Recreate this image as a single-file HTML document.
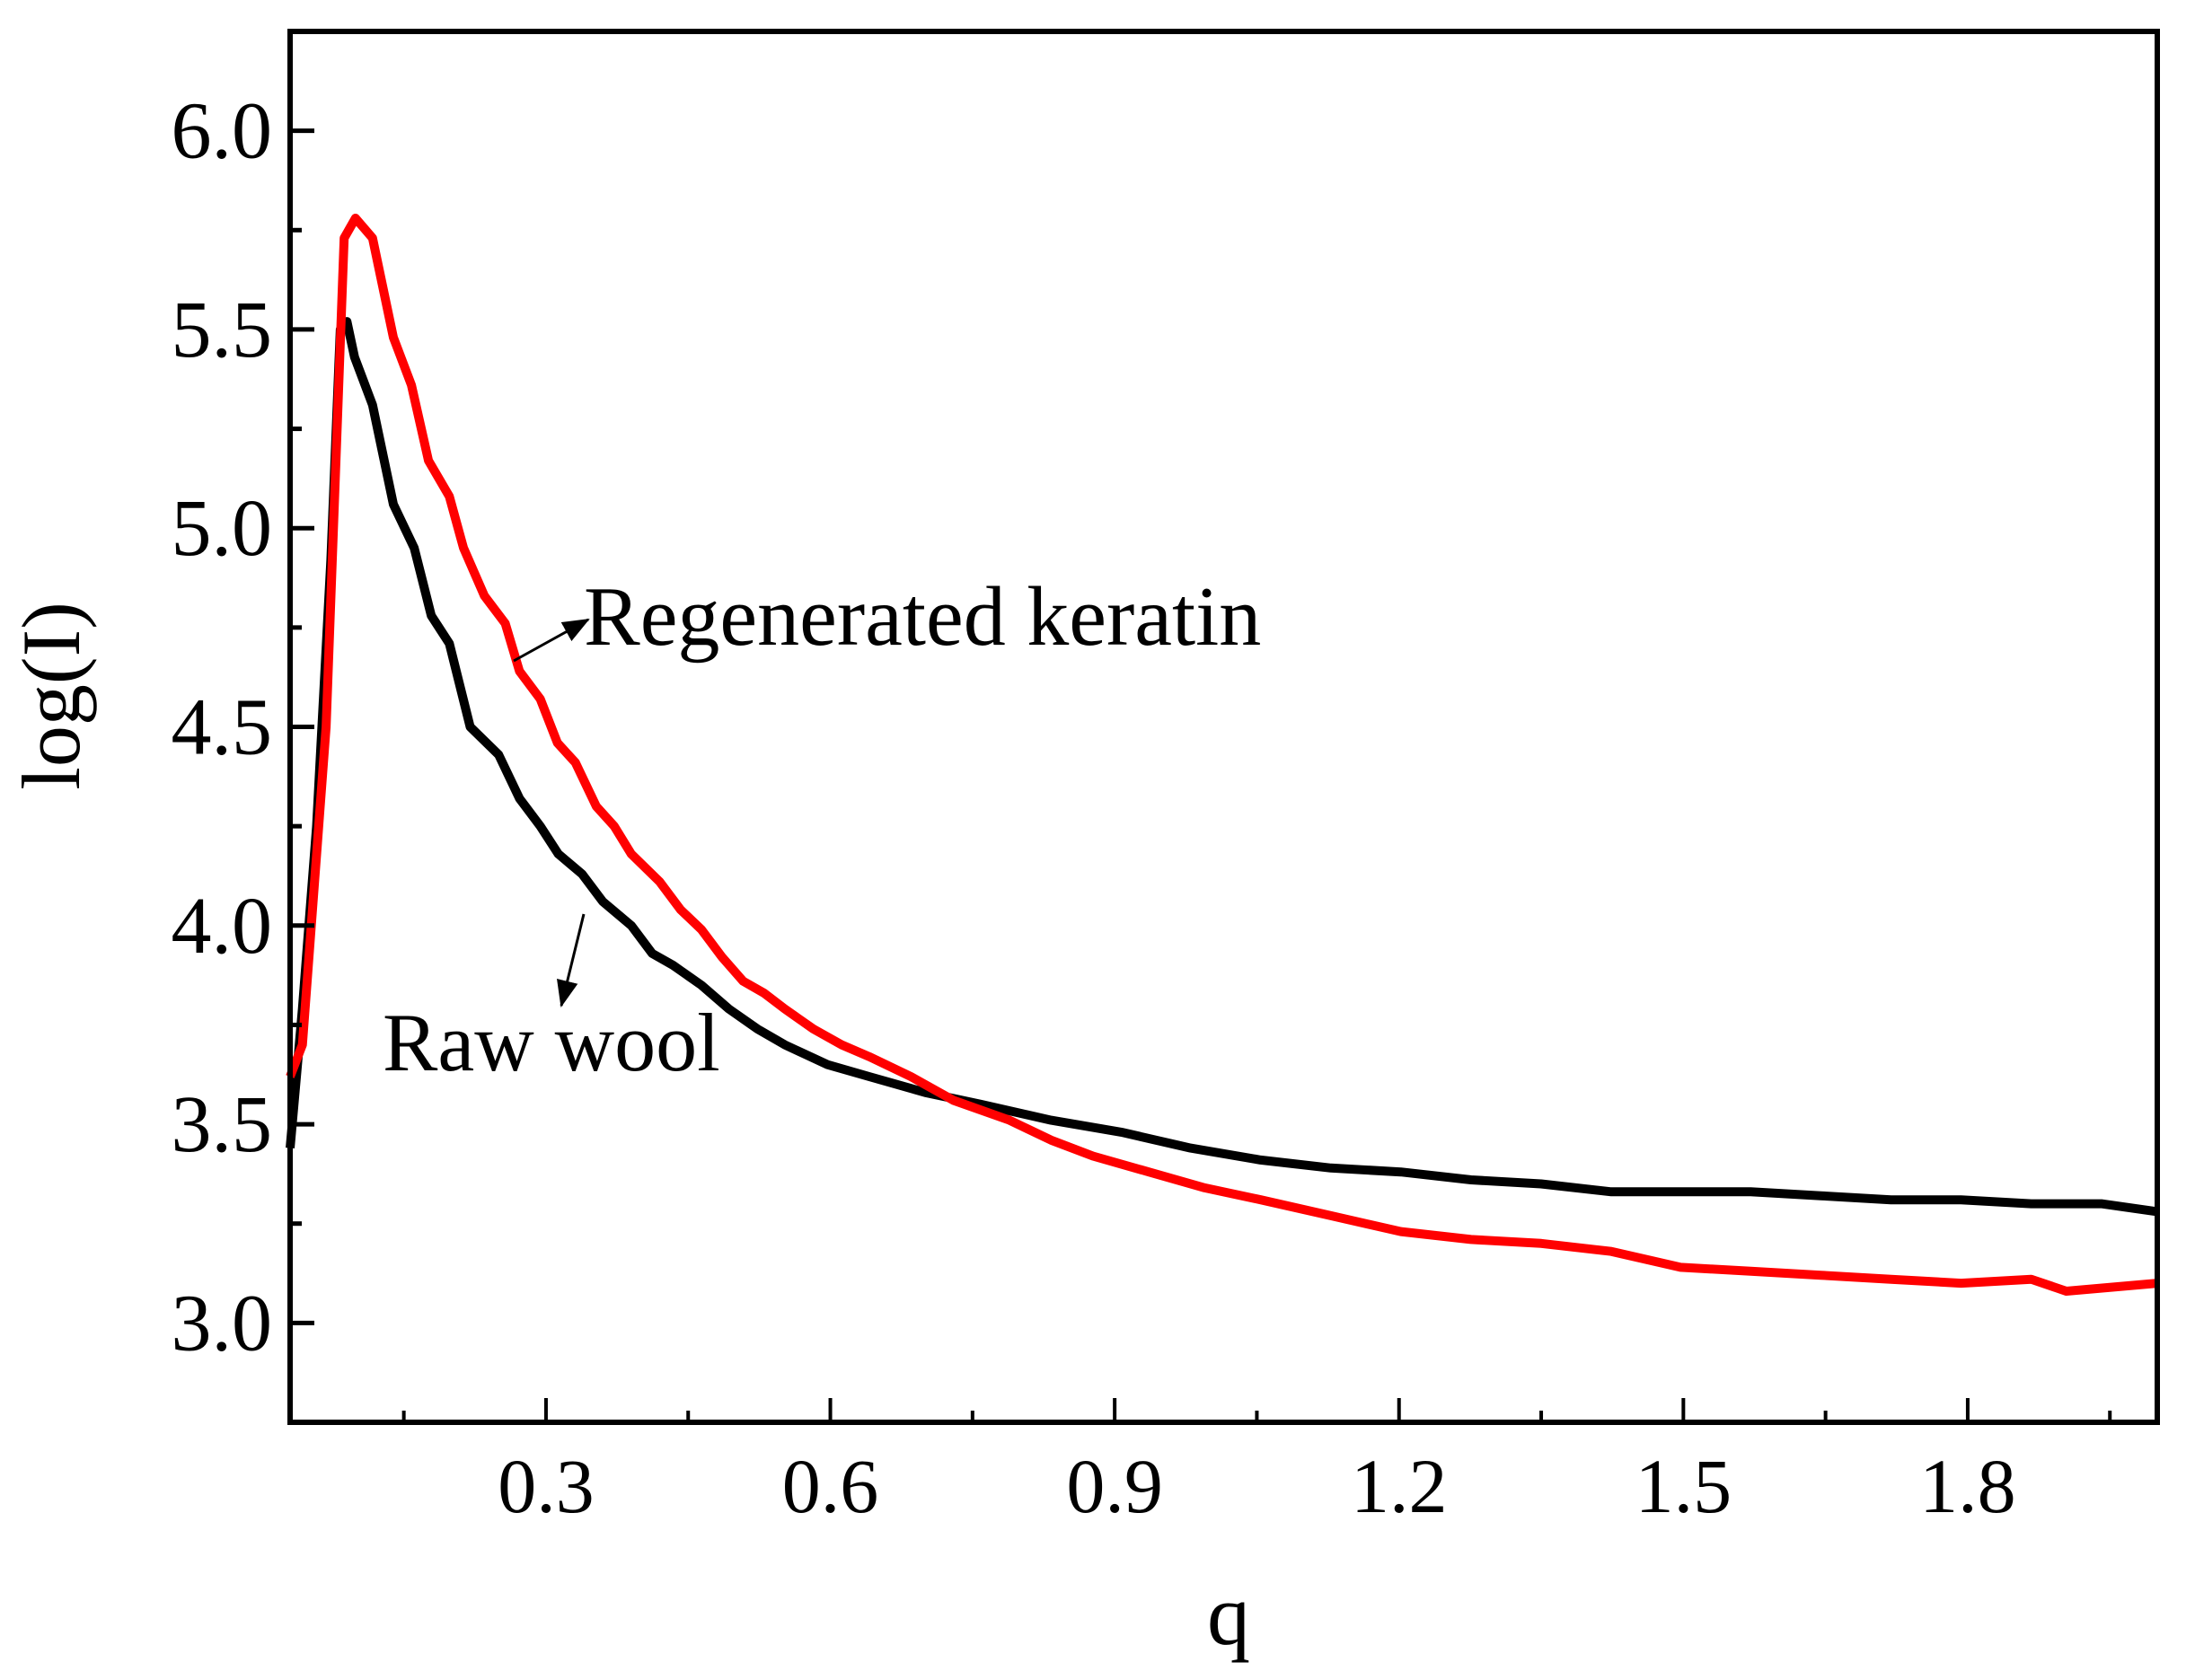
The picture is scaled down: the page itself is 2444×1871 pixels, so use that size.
<!DOCTYPE html>
<html><head><meta charset="utf-8"><style>
html,body{margin:0;padding:0;background:#fff;}
svg{display:block;}
text{font-family:"Liberation Serif",serif;fill:#000;}
</style></head><body>
<svg id="chart" width="2444" height="1871" viewBox="0 0 2444 1871" xmlns="http://www.w3.org/2000/svg">
<defs>
<marker id="ah2" markerWidth="30" markerHeight="24" refX="28" refY="12" orient="auto" markerUnits="userSpaceOnUse"><path d="M0,0 L30,12 L0,24 z" fill="#000"/></marker></defs>
<g id="plot"></g>
<rect x="323" y="35" width="2079" height="1549" fill="none" stroke="#000" stroke-width="6"/>
<g id="xticks"></g>
<g id="yticks"></g>
<text x="1368" y="1831" font-size="96" text-anchor="middle">q</text>
<text x="0" y="0" font-size="92" text-anchor="middle" transform="translate(88,775) rotate(-90)">log(I)</text>
<line x1="572" y1="736" x2="655" y2="690" stroke="#000" stroke-width="3" marker-end="url(#ah2)"/>
<text x="650" y="718" font-size="94">Regenerated keratin</text>
<line x1="650" y1="1018" x2="625" y2="1120" stroke="#000" stroke-width="3" marker-end="url(#ah2)"/>
<text x="426" y="1192" font-size="92">Raw wool</text>
</svg>
<script>
const redQ=[0.030,0.043,0.068,0.087,0.099,0.117,0.139,0.158,0.176,0.198,0.213,0.235,0.257,0.272,0.294,0.312,0.331,0.353,0.372,0.390,0.420,0.442,0.464,0.486,0.508,0.530,0.552,0.582,0.612,0.641,0.685,0.730,0.789,0.833,0.877,0.936,0.995,1.054,1.128,1.202,1.276,1.350,1.424,1.497,1.571,1.645,1.719,1.793,1.867,1.904,2.0];
const redI=[3.62,3.70,4.50,5.73,5.78,5.73,5.48,5.36,5.17,5.08,4.95,4.83,4.76,4.64,4.57,4.46,4.41,4.30,4.25,4.18,4.11,4.04,3.99,3.92,3.86,3.83,3.79,3.74,3.70,3.67,3.62,3.56,3.51,3.46,3.42,3.38,3.34,3.31,3.27,3.23,3.21,3.20,3.18,3.14,3.13,3.12,3.11,3.10,3.11,3.08,3.10];
const blackQ=[0.030,0.043,0.058,0.073,0.083,0.090,0.098,0.117,0.139,0.161,0.179,0.198,0.220,0.250,0.272,0.294,0.313,0.338,0.360,0.390,0.412,0.434,0.464,0.493,0.523,0.552,0.597,0.641,0.700,0.759,0.833,0.907,0.980,1.054,1.128,1.202,1.276,1.350,1.424,1.497,1.571,1.645,1.719,1.793,1.867,1.941,2.0];
const blackI=[3.44,3.79,4.25,4.92,5.50,5.52,5.43,5.31,5.06,4.95,4.78,4.71,4.50,4.43,4.32,4.25,4.18,4.13,4.06,4.00,3.93,3.90,3.85,3.79,3.74,3.70,3.65,3.62,3.58,3.55,3.51,3.48,3.44,3.41,3.39,3.38,3.36,3.35,3.33,3.33,3.33,3.32,3.31,3.31,3.30,3.30,3.28];
const xTickVals=[0.3,0.6,0.9,1.2,1.5,1.8];
const xTickLabels=["0.3","0.6","0.9","1.2","1.5","1.8"];
const yTickVals=[3.0,3.5,4.0,4.5,5.0,5.5,6.0];
const yTickLabels=["3.0","3.5","4.0","4.5","5.0","5.5","6.0"];
const X0=323,X1=2402,Y0=1584,Y1=35,QMIN=0.03,QMAX=2.0,IMIN=2.75,IMAX=6.25;
const sx=q=>X0+(q-QMIN)/(QMAX-QMIN)*(X1-X0);
const sy=v=>Y0-(v-IMIN)/(IMAX-IMIN)*(Y0-Y1);
const NS="http://www.w3.org/2000/svg";
const plot=document.getElementById('plot');
function line(qs,is,color,name){
  const p=document.createElementNS(NS,'polyline');
  p.setAttribute('points',qs.map((q,i)=>sx(q).toFixed(1)+','+sy(is[i]).toFixed(1)).join(' '));
  p.setAttribute('fill','none');p.setAttribute('stroke',color);p.setAttribute('stroke-width','10');p.setAttribute('stroke-linejoin','round');
  
  
  plot.appendChild(p);
}
line(blackQ,blackI,'#000','raw-wool-line');
line(redQ,redI,'#ff0000','regenerated-keratin-line');
const xt=document.getElementById('xticks');
for(let v=0.15;v<2.0;v+=0.15){
  const major=Math.abs(v/0.3-Math.round(v/0.3))<0.01;
  const l=document.createElementNS(NS,'line');
  l.setAttribute('x1',sx(v));l.setAttribute('x2',sx(v));l.setAttribute('y1',Y0);l.setAttribute('y2',Y0-(major?27:13));
  l.setAttribute('stroke','#000');l.setAttribute('stroke-width','4');
  
  
  xt.appendChild(l);
}
xTickVals.forEach((v,i)=>{
  const t=document.createElementNS(NS,'text');
  t.setAttribute('x',sx(v));t.setAttribute('y',1684);t.setAttribute('font-size','86');t.setAttribute('text-anchor','middle');
  t.textContent=xTickLabels[i];
  
  
  xt.appendChild(t);
});
const yt=document.getElementById('yticks');
for(let v=3.0;v<6.2;v+=0.25){
  const major=Math.abs(v*2-Math.round(v*2))<0.01;
  const l=document.createElementNS(NS,'line');
  l.setAttribute('x1',X0);l.setAttribute('x2',X0+(major?27:13));l.setAttribute('y1',sy(v));l.setAttribute('y2',sy(v));
  l.setAttribute('stroke','#000');l.setAttribute('stroke-width','5');
  
  
  yt.appendChild(l);
}
yTickVals.forEach((v,i)=>{
  const t=document.createElementNS(NS,'text');
  t.setAttribute('x',303);t.setAttribute('y',sy(v)+30);t.setAttribute('font-size','90');t.setAttribute('text-anchor','end');
  t.textContent=yTickLabels[i];
  
  
  yt.appendChild(t);
});
</script>
</body></html>
